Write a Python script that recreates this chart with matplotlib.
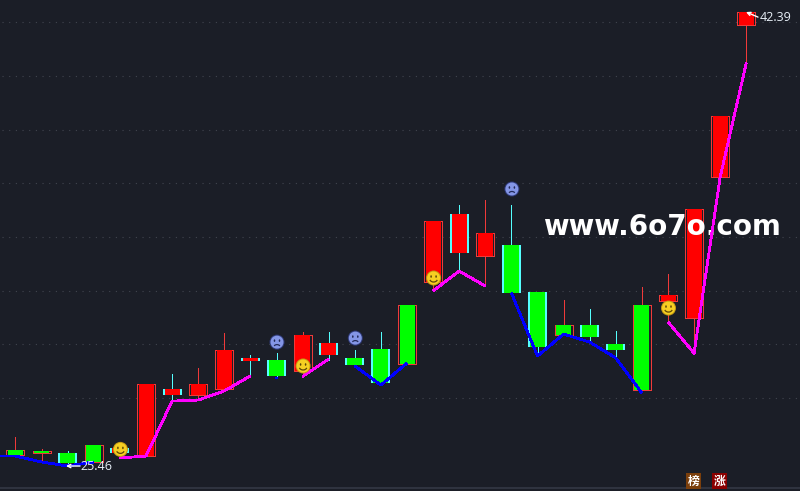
import matplotlib
matplotlib.use("Agg")
import matplotlib.pyplot as plt
from matplotlib.patches import Rectangle, Ellipse, Arc

BG = "#1b1e27"
RED = "#ff0000"
GREEN = "#00ff00"
CYAN = "#55ffff"
RIM_RED = "#f03a3a"
MAGENTA = "#ff00ff"
BLUE = "#0000ff"

# candles, left to right
highs = [26.54, 26.08, 26.02, 26.24, 26.13, 28.52, 28.89, 29.11, 30.42, 29.60,
         29.67, 30.46, 30.46, 29.79, 30.46, 31.46, 34.60, 35.19, 35.38, 35.19,
         31.95, 31.65, 31.31, 30.49, 32.14, 32.62, 35.04, 38.51, 42.39]
lows = [25.87, 25.65, 25.57, 25.61, 25.95, 25.83, 27.92, 27.92, 28.33, 28.82,
        28.82, 28.82, 29.41, 29.19, 28.56, 29.26, 31.99, 32.69, 32.17, 31.91,
        29.60, 30.35, 30.05, 29.49, 28.29, 30.83, 29.67, 36.24, 40.49]
body_top = [26.06, 26.02, 25.95, 26.24, 26.13, 28.52, 28.33, 28.52, 29.79, 29.49,
            29.41, 30.35, 30.05, 29.49, 29.82, 31.46, 34.60, 34.86, 34.15, 33.70,
            31.95, 30.72, 30.72, 30.01, 31.46, 31.84, 35.04, 38.51, 42.39]
body_bot = [25.87, 25.95, 25.57, 25.61, 25.95, 25.83, 28.11, 28.11, 28.33, 29.38,
            28.82, 29.00, 29.60, 29.23, 28.56, 29.26, 32.32, 33.40, 33.29, 31.91,
            29.90, 30.35, 30.27, 29.79, 28.29, 31.61, 30.98, 36.24, 41.91]
# r = red body, g = green body
body_kind = list("ggggrrrrrrgrrgggrrrgggggg" + "rrrr")
# b = boxed outline, s = side bars
rim_kind = list("bbsbsbsbbssbsssbbsbssbssbbbbb")

# indicator line pieces: (candle index, value)
blue_1_x = [-0.57, 0, 1, 2, 3]
blue_1_y = [25.83, 25.83, 25.61, 25.46, 25.61]
magenta_1_x = [4, 5, 6, 7, 8, 9]
magenta_1_y = [25.76, 25.83, 27.88, 27.92, 28.26, 28.82]
blue_2_x = [9.93, 10.07]
blue_2_y = [28.74, 28.74]
magenta_2_x = [11, 12]
magenta_2_y = [28.80, 29.45]
blue_3_x = [13, 14, 15]
blue_3_y = [29.19, 28.48, 29.30]
magenta_3_x = [16, 17, 18]
magenta_3_y = [31.99, 32.73, 32.17]
blue_4_x = [19, 20, 21, 22, 23, 24]
blue_4_y = [31.91, 29.56, 30.38, 30.08, 29.49, 28.18]
magenta_4_x = [25, 26, 27, 28]
magenta_4_y = [30.83, 29.67, 36.24, 40.49]

smile_x = [4, 11, 16, 25]
smile_y = [26.08, 29.19, 32.47, 31.35]
sad_x = [10, 13, 19]
sad_y = [30.08, 30.23, 35.79]

grid_levels = [42, 40, 38, 36, 34, 32, 30, 28]

# size of one pixel in data units
PX = 1 / 26.1
PY = 0.03729
X0 = -15.5 * PX
Y_TOP = 42.8375

fig = plt.figure(figsize=(8, 4.91), dpi=100, facecolor=BG)
ax = fig.add_axes([0, 0, 1, 1], facecolor=BG)
ax.set_xlim(X0, X0 + 800 * PX)
ax.set_ylim(Y_TOP - 491 * PY, Y_TOP)
ax.axis("off")

for lvl in grid_levels:
    ax.plot([X0 + 2 * PX, X0 + 798 * PX], [lvl, lvl], color="#41454f", lw=0.8,
            ls=(0, (1, 5)), zorder=1)
ax.axhline(Y_TOP - 488 * PY, color="#343844", lw=1.2, zorder=1)

for i in range(len(highs)):
    fill = RED if body_kind[i] == "r" else GREEN
    top, bot = body_top[i], body_bot[i]
    boxed = rim_kind[i] == "b"
    wick = RIM_RED if boxed else CYAN
    ax.plot([i, i], [lows[i], highs[i]], color=wick, lw=0.72, zorder=2, solid_capstyle="butt",
            antialiased=False)
    if boxed:
        ax.add_patch(Rectangle((i - 9 * PX, bot), 18 * PX, top - bot, fc=BG,
                               ec=RIM_RED, lw=0.72, zorder=3, antialiased=False))
    else:
        ax.add_patch(Rectangle((i - 9.5 * PX, bot), 19 * PX, top - bot, fc=CYAN,
                               ec="none", zorder=3))
    ax.add_patch(Rectangle((i - 7.5 * PX, bot), 15 * PX, top - bot, fc=fill, ec="none", zorder=4))

ax.text(X0 + 662 * PX, Y_TOP - 235 * PY, "www.6o7o.com", color="white", fontsize=20,
        fontweight="bold", family="DejaVu Sans", ha="center", va="baseline", zorder=5)

for xs, ys, col in [(blue_1_x, blue_1_y, BLUE), (magenta_1_x, magenta_1_y, MAGENTA),
                    (blue_2_x, blue_2_y, BLUE), (magenta_2_x, magenta_2_y, MAGENTA),
                    (blue_3_x, blue_3_y, BLUE), (magenta_3_x, magenta_3_y, MAGENTA),
                    (blue_4_x, blue_4_y, BLUE), (magenta_4_x, magenta_4_y, MAGENTA)]:
    ax.plot(xs, ys, color=col, lw=1.3, zorder=6, solid_capstyle="butt", antialiased=False)


def face(x, y, fc, ec, feature, happy):
    ax.add_patch(Ellipse((x, y), 15 * PX, 15 * PY, fc=ec, ec="none", zorder=7))
    ax.add_patch(Ellipse((x, y), 13 * PX, 13 * PY, fc=fc, ec="none", zorder=7))
    for side in (-1, 1):
        ax.add_patch(Ellipse((x + side * 2.5 * PX, y + 1.5 * PY), 1.6 * PX, 2.6 * PY,
                             fc=feature, ec="none", zorder=8))
    if happy:
        ax.add_patch(Arc((x, y - 0.5 * PY), 8 * PX, 7 * PY, theta1=200, theta2=340,
                         ec=feature, lw=0.9, zorder=8))
    else:
        ax.add_patch(Arc((x, y - 5.5 * PY), 7 * PX, 6 * PY, theta1=30, theta2=150,
                         ec=feature, lw=0.9, zorder=8))


for x, y in zip(smile_x, smile_y):
    face(x + 0.5 * PX, y, "#f6cf22", "#c49a14", "#5c4608", True)
for x, y in zip(sad_x, sad_y):
    face(x + 0.5 * PX, y, "#8496e6", "#2f3a78", "#232a58", False)

# price labels
ax.text(X0 + 80 * PX, 25.46, "25.46", color="#e8f0f8", fontsize=9, family="Open Sans",
        ha="left", va="center", zorder=9)
ax.annotate("", xy=(X0 + 66 * PX, 25.46), xytext=(X0 + 80 * PX, 25.46),
            arrowprops=dict(arrowstyle="->", color="white", lw=1.0, shrinkA=0, shrinkB=0,
                            mutation_scale=6), zorder=9)
ax.text(X0 + 760 * PX, 42.2, "42.39", color="#e8f0f8", fontsize=9, family="Open Sans",
        ha="left", va="center", zorder=9)
ax.annotate("", xy=(X0 + 746 * PX, 42.39), xytext=(X0 + 758 * PX, 42.2),
            arrowprops=dict(arrowstyle="->", color="white", lw=1.0, shrinkA=0, shrinkB=0,
                            mutation_scale=6), zorder=9)

# badges bottom right
for px, ch, col in [(693.5, "榜", "#7b3f0c"), (719.5, "涨", "#8a0000")]:
    ax.text(X0 + px * PX, Y_TOP - 481 * PY, ch, color="white", fontsize=8.5,
            family=["Noto Sans CJK SC", "DejaVu Sans"], fontweight="bold", ha="center", va="center",
            bbox=dict(boxstyle="square,pad=0.12", fc=col, ec="none"), zorder=9)

fig.savefig("out.png", dpi=100, facecolor=BG)
